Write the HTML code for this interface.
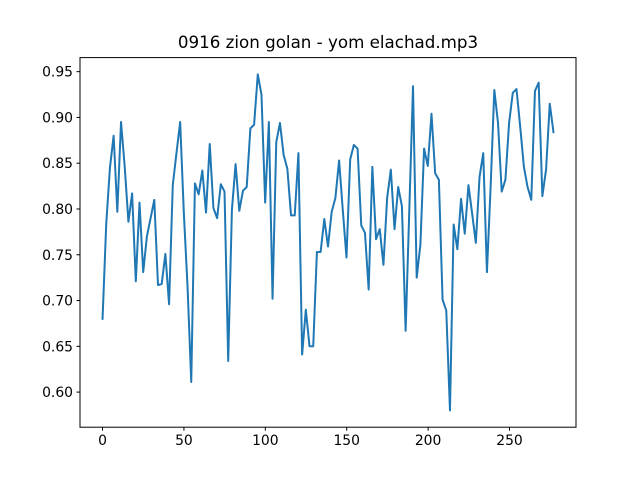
<!DOCTYPE html>
<html><head><meta charset="utf-8"><style>
body{margin:0;background:#fff;}
svg{display:block;font-family:"DejaVu Sans","Liberation Sans",sans-serif;}
</style></head><body>
<svg id="chart" width="640" height="480">
<rect width="640" height="480" fill="#fff"/>
<text x="328" y="48" text-anchor="middle" font-size="16.7">0916 zion golan - yom elachad.mp3</text>
<g id="xaxis"></g>
<g id="yaxis"></g>
<path id="line" fill="none" stroke="#1f77b4" stroke-width="2" stroke-linejoin="round" stroke-linecap="square"/>
<rect x="80" y="57.6" width="496" height="369.6" fill="none" stroke="#000" stroke-width="1"/>
</svg>
<script>
const values = [0.680,0.784,0.845,0.880,0.797,0.895,0.846,0.786,0.817,0.721,0.807,0.731,0.770,0.790,0.810,0.717,0.718,0.751,0.696,0.826,0.861,0.895,0.795,0.715,0.611,0.828,0.816,0.842,0.796,
0.871,0.801,0.790,0.827,0.819,0.634,0.799,0.849,0.798,0.820,0.824,0.888,0.892,0.947,0.925,0.807,0.895,0.702,0.873,0.894,0.859,0.844,0.793,0.793,0.861,0.641,0.690,0.650,0.650,0.753,0.753,
0.789,0.759,0.797,0.812,0.853,0.799,0.747,0.854,0.870,0.866,0.782,0.774,0.712,0.846,0.767,0.778,0.739,0.812,0.843,0.778,0.824,0.803,0.667,0.799,0.934,0.725,0.761,0.866,0.847,0.904,0.839,0.832,
0.701,0.689,0.580,0.783,0.756,0.811,0.773,0.826,0.795,0.763,0.835,0.861,0.731,0.824,0.930,0.894,0.819,0.832,0.894,0.927,0.931,0.890,0.846,0.824,0.810,0.929,0.938,0.814,0.843,0.915,0.884];
const xMaxData = 277;
const xTicks = [0,50,100,150,200,250];
const yTicks = [0.60,0.65,0.70,0.75,0.80,0.85,0.90,0.95];

const L=80,R=576,T=57.6,B=427.2;
const xmin=-0.05*xMaxData, xmax=1.05*xMaxData;
let vmin=Math.min(...values), vmax=Math.max(...values), pad=(vmax-vmin)*0.05;
const ymin=vmin-pad, ymax=vmax+pad;
const X=v=>L+(v-xmin)/(xmax-xmin)*(R-L);
const Y=v=>B-(v-ymin)/(ymax-ymin)*(B-T);
const NS="http://www.w3.org/2000/svg";
const step=xMaxData/(values.length-1);
let d="";
values.forEach((v,i)=>{d+=(i?"L":"M")+X(i*step).toFixed(2)+","+Y(v).toFixed(2);});
document.getElementById("line").setAttribute("d",d);
const xa=document.getElementById("xaxis"), ya=document.getElementById("yaxis");
xTicks.forEach(t=>{
  const x=X(t);
  const l=document.createElementNS(NS,"line");
  l.setAttribute("x1",x);l.setAttribute("x2",x);l.setAttribute("y1",B);l.setAttribute("y2",B+3.5);l.setAttribute("stroke","#000");
  
  
  xa.appendChild(l);
  const tx=document.createElementNS(NS,"text");
  tx.setAttribute("x",x);tx.setAttribute("y",B+18);tx.setAttribute("text-anchor","middle");tx.setAttribute("font-size","13.9");
  tx.textContent=t;
  
  
  xa.appendChild(tx);
});
yTicks.forEach(t=>{
  const y=Y(t);
  const l=document.createElementNS(NS,"line");
  l.setAttribute("x1",L-3.5);l.setAttribute("x2",L);l.setAttribute("y1",y);l.setAttribute("y2",y);l.setAttribute("stroke","#000");
  
  
  ya.appendChild(l);
  const tx=document.createElementNS(NS,"text");
  tx.setAttribute("x",L-7);tx.setAttribute("y",y+5);tx.setAttribute("text-anchor","end");tx.setAttribute("font-size","13.9");
  tx.textContent=t.toFixed(2);
  
  
  ya.appendChild(tx);
});
</script>
</body></html>
